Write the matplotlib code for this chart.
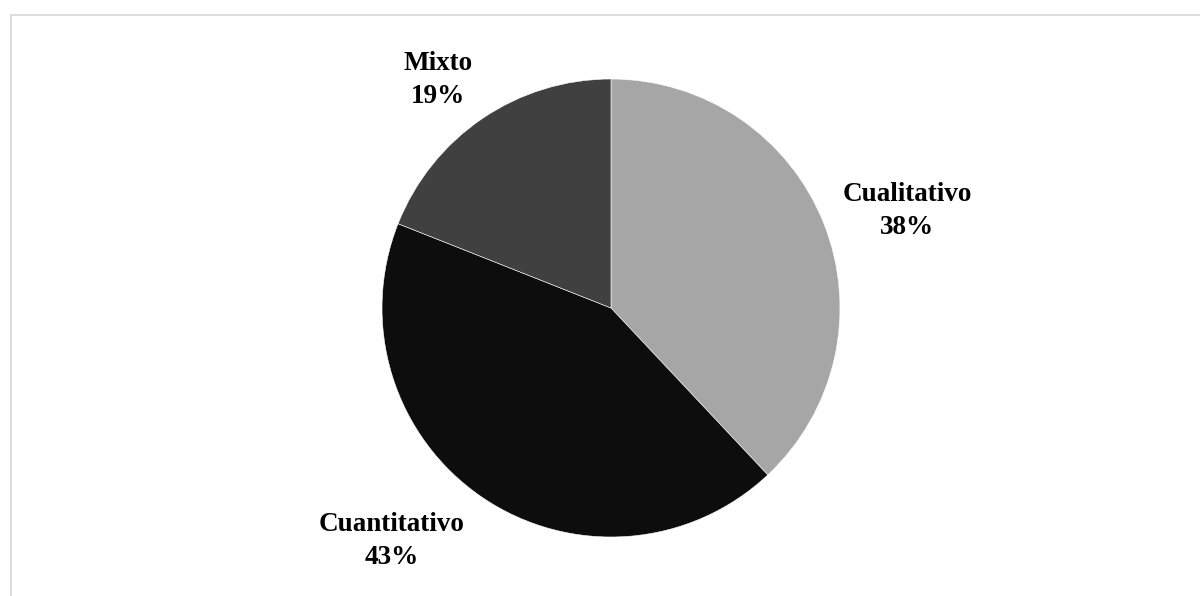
import matplotlib.pyplot as plt
from matplotlib.patches import Rectangle

categorias = ['Cualitativo', 'Cuantitativo', 'Mixto']
porcentajes = [38, 43, 19]
colores = ['#a6a6a6', '#0d0d0d', '#404040']

# posiciones de las etiquetas (pixeles, origen abajo a la izquierda)
pos_etiquetas = [(907, 385), (392, 55), (438, 516)]

plt.rcParams['font.family'] = ['Liberation Serif', 'DejaVu Serif']

fig = plt.figure(figsize=(12, 5.96), dpi=100)
ax = fig.add_axes([0, 0, 1, 1])

ax.pie(porcentajes, colors=colores, startangle=90, counterclock=False,
       center=(611, 288), radius=229,
       wedgeprops=dict(edgecolor='white', linewidth=0.4))

# pie() cambia los limites, se fijan despues
ax.set_xlim(0, 1200)
ax.set_ylim(0, 596)
ax.set_aspect('equal')
ax.axis('off')

# marco gris del grafico
ax.add_patch(Rectangle((10.5, -10), 1200, 596 - 15 + 10, fill=False,
                       edgecolor='#d9d9d9', linewidth=1.3))

for cat, pct, (x, y) in zip(categorias, porcentajes, pos_etiquetas):
    ax.text(x, y, f'{cat}\n{pct}%', ha='center', va='center',
            fontsize=19.5, fontweight='bold', linespacing=1.38)

fig.savefig('out.png', dpi=100)
